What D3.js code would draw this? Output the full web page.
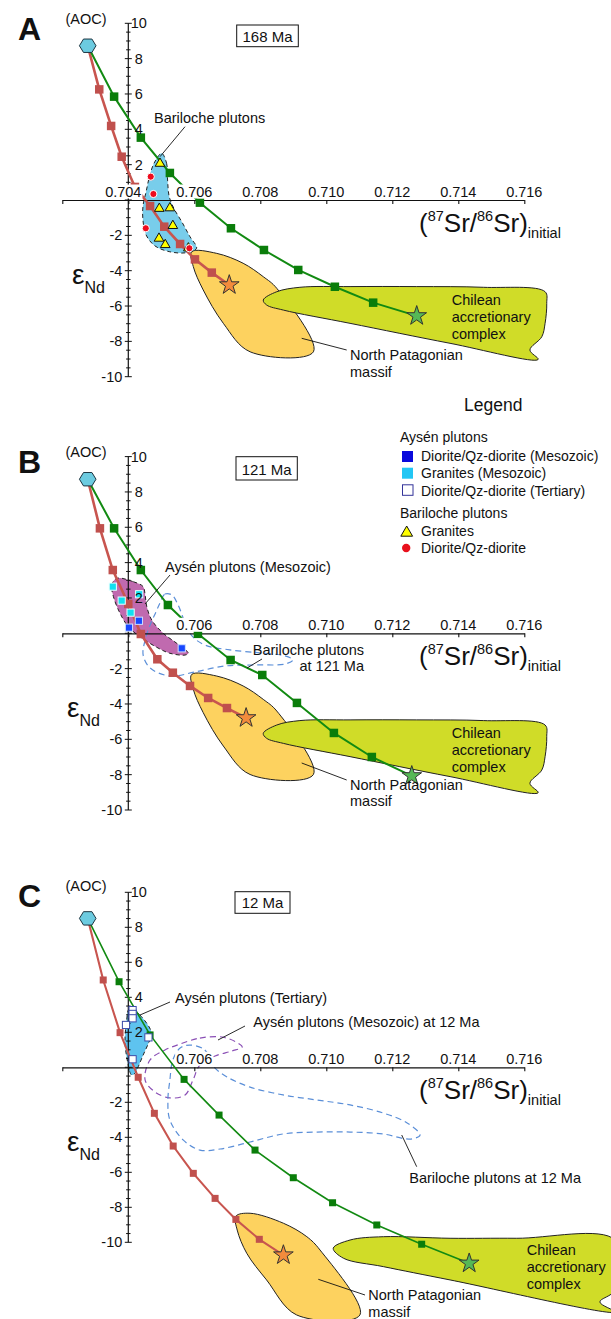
<!DOCTYPE html>
<html><head><meta charset="utf-8">
<script src="https://cdn.jsdelivr.net/npm/d3@7"></script>
<style>body{margin:0;background:#fff} text{font-family:"Liberation Sans",Arial,sans-serif;fill:#111}</style>
</head><body><svg id="c" width="611" height="1319"></svg>
<script>
// ---------- DATA ----------
const xTickValues = [0.704,0.706,0.708,0.710,0.712,0.714,0.716];
const xTickLabels = ["0.704","0.706","0.708","0.710","0.712","0.714","0.716"];
const yTickValues = [10,8,6,4,2,-2,-4,-6,-8,-10];
const yTickLabels = ["10","8","6","4","2","-2","-4","-6","-8","-10"];
const panelLetters = ["A","B","C"];
const panelAges = ["168 Ma","121 Ma","12 Ma"];

// Panel A (168 Ma)
const redA = [[0.70277,8.73],[0.70312,6.26],[0.70348,4.19],[0.70380,2.45],[0.70420,0.74],[0.70466,-0.34],[0.70509,-1.51],[0.70557,-2.49],[0.70602,-3.36],[0.70653,-4.11],[0.70706,-4.81]];
const greenA = [[0.70277,8.73],[0.70357,5.85],[0.70438,3.53],[0.70526,1.53],[0.70617,-0.15],[0.70711,-1.60],[0.70811,-2.83],[0.70915,-3.96],[0.71026,-4.91],[0.71142,-5.81],[0.71274,-6.56]];
const barilocheFieldA = [[0.70501,2.64],[0.70516,2.08],[0.70519,1.13],[0.70524,0.19],[0.70538,-0.47],[0.70562,-1.23],[0.70587,-2.08],[0.70607,-2.73],[0.70577,-2.98],[0.70526,-2.93],[0.70481,-2.60],[0.70454,-1.98],[0.70444,-1.04],[0.70445,-0.28],[0.70454,0.47],[0.70464,1.32],[0.70478,2.08]];
const barilocheGranitesA = [[0.70496,2.11],[0.70494,-0.44],[0.70526,-0.41],[0.70535,-1.41],[0.70493,-2.13],[0.70512,-2.49],[0.70582,-2.68]];
const barilocheDioritesA = [[0.70468,1.32],[0.70476,0.34],[0.70453,-1.60],[0.70585,-2.73]];
const patagoniaA = [[0.70592,-2.93],[0.70668,-3.02],[0.70748,-3.58],[0.70809,-4.34],[0.70850,-5.00],[0.70961,-8.59],[0.70769,-8.59],[0.70688,-6.98],[0.70627,-5.09],[0.70597,-3.77]];
const chileA = [[0.70809,-5.66],[0.70850,-5.19],[0.70920,-4.94],[0.71072,-4.90],[0.71274,-4.90],[0.71476,-4.94],[0.71663,-5.19],[0.71668,-5.85],[0.71663,-6.98],[0.71653,-7.74],[0.71617,-8.49],[0.71642,-9.02],[0.71375,-8.11],[0.71072,-6.98],[0.70870,-6.23],[0.70819,-5.94]];

// Panel B (121 Ma)
const redB = [[0.70277,8.72],[0.70314,5.94],[0.70353,3.58],[0.70400,1.66],[0.70438,-0.04],[0.70488,-1.47],[0.70535,-2.23],[0.70587,-2.98],[0.70642,-3.66],[0.70699,-4.23],[0.70757,-4.79]];
const greenB = [[0.70277,8.72],[0.70357,5.94],[0.70438,3.58],[0.70520,1.60],[0.70611,-0.03],[0.70710,-1.51],[0.70806,-2.36],[0.70911,-3.94],[0.71023,-5.64],[0.71138,-7.00],[0.71259,-8.07]];
const aysenFieldB = [[0.70365,3.11],[0.70415,2.92],[0.70445,2.64],[0.70451,2.17],[0.70456,1.51],[0.70471,0.75],[0.70506,0.00],[0.70547,-0.57],[0.70582,-1.13],[0.70572,-1.23],[0.70526,-1.13],[0.70486,-0.79],[0.70435,-0.19],[0.70400,0.37],[0.70375,1.13],[0.70355,2.07],[0.70350,2.73]];
const aysenGranitesB = [[0.70353,2.64],[0.70433,2.21],[0.70380,1.85],[0.70407,1.17]];
const aysenDioritesB = [[0.70432,0.71],[0.70402,0.32],[0.70562,-0.85]];
const barilocheAt121 = [[0.70496,1.72],[0.70511,2.22],[0.70532,2.17],[0.70551,1.60],[0.70569,0.75],[0.70593,-0.15],[0.70632,-0.66],[0.70708,-0.94],[0.70799,-1.11],[0.70875,-1.28],[0.70899,-1.51],[0.70875,-1.74],[0.70784,-1.79],[0.70693,-1.85],[0.70602,-2.19],[0.70526,-2.42],[0.70466,-1.96],[0.70445,-1.23],[0.70451,-0.38],[0.70466,0.47],[0.70484,1.21]];
const patagoniaB = [[0.70592,-2.33],[0.70668,-2.42],[0.70748,-2.98],[0.70809,-3.74],[0.70850,-4.40],[0.70961,-7.99],[0.70769,-7.99],[0.70688,-6.38],[0.70627,-4.49],[0.70597,-3.17]];
const chileB = [[0.70809,-5.66],[0.70850,-5.19],[0.70920,-4.94],[0.71072,-4.90],[0.71274,-4.90],[0.71476,-4.94],[0.71663,-5.19],[0.71668,-5.85],[0.71663,-6.98],[0.71653,-7.74],[0.71617,-8.49],[0.71642,-9.02],[0.71375,-8.11],[0.71072,-6.98],[0.70870,-6.23],[0.70819,-5.94]];

// Panel C (12 Ma)
const redC = [[0.70277,8.51],[0.70324,4.99],[0.70375,1.98],[0.70430,-0.57],[0.70479,-2.63],[0.70536,-4.50],[0.70597,-6.06],[0.70663,-7.49],[0.70726,-8.69],[0.70797,-9.83],[0.70870,-10.73]];
const greenC = [[0.70277,8.51],[0.70372,4.89],[0.70466,1.85],[0.70569,-0.69],[0.70675,-2.73],[0.70784,-4.73],[0.70900,-6.31],[0.71019,-7.74],[0.71153,-9.01],[0.71289,-10.11],[0.71433,-11.20]];
const aysenFieldC = [[0.70405,3.37],[0.70435,2.99],[0.70471,1.94],[0.70461,1.37],[0.70445,0.70],[0.70430,0.03],[0.70420,-0.34],[0.70410,-0.44],[0.70395,0.61],[0.70390,1.56],[0.70395,2.70],[0.70400,3.27]];
const aysenTertiaryC = [[0.70413,3.27],[0.70413,3.05],[0.70413,2.80],[0.70393,2.42],[0.70461,1.71],[0.70413,0.46]];
const aysenMesoAt12 = [[0.70557,1.33],[0.70617,1.67],[0.70684,1.73],[0.70732,1.39],[0.70745,1.16],[0.70714,0.93],[0.70663,0.65],[0.70617,0.13],[0.70596,-0.73],[0.70572,-1.58],[0.70526,-1.75],[0.70481,-1.41],[0.70451,-0.73],[0.70466,0.42],[0.70511,0.99]];
const barilocheAt12 = [[0.70587,1.27],[0.70632,0.99],[0.70657,0.07],[0.70699,-0.55],[0.70769,-1.13],[0.70869,-1.58],[0.70972,-1.87],[0.71072,-2.15],[0.71172,-2.61],[0.71245,-3.18],[0.71284,-3.87],[0.71254,-4.10],[0.71172,-3.81],[0.71072,-3.70],[0.70972,-3.70],[0.70869,-3.81],[0.70769,-4.27],[0.70678,-4.67],[0.70617,-4.73],[0.70566,-4.15],[0.70526,-3.01],[0.70520,-1.87],[0.70526,-0.73],[0.70535,0.42],[0.70557,1.10]];
const patagoniaC = [[0.70726,-8.51],[0.70769,-8.34],[0.70870,-8.91],[0.70941,-9.68],[0.70981,-10.44],[0.71102,-14.15],[0.70910,-14.15],[0.70819,-12.15],[0.70759,-10.63],[0.70730,-9.30]];
const chileC = [[0.71021,-10.34],[0.71072,-9.87],[0.71173,-9.68],[0.71375,-9.77],[0.71577,-9.77],[0.71875,-9.87],[0.71875,-12.73],[0.71829,-13.41],[0.71875,-13.98],[0.71375,-12.15],[0.71173,-11.39],[0.71052,-10.91]];

// ---------- DRAW ----------
const svg = d3.select('#c');
const FONT = 14.5;
const x = d3.scaleLinear().domain([0.702, 0.716]).range([62.3, 524.3]);

const C = {
  red:'#c8554f', redSq:'#c0504d', green:'#128a12', greenSq:'#0a7d0a',
  hex:'#6ccbe0', blueField:'#78cdeb', orange:'#fdd25f', chile:'#d0dc28',
  purple:'#c06aaf', blueC:'#5ec3ef', starO:'#f38b3c', starG:'#56b856'
};

const hexSymbol = { draw(ctx){ const w=8.3,h=6.7,q=4.2;
  ctx.moveTo(-w,0);ctx.lineTo(-q,-h);ctx.lineTo(q,-h);ctx.lineTo(w,0);ctx.lineTo(q,h);ctx.lineTo(-q,h);ctx.closePath(); } };

function txt(g, s, px, py, opts={}) {
  const t = g.append('text').attr('x',px).attr('y',py).attr('font-size',opts.size||FONT).text(s);
  if (opts.anchor) t.attr('text-anchor',opts.anchor);
  if (opts.weight) t.attr('font-weight',opts.weight);
  return t;
}
function leader(g, x1,y1,x2,y2){ g.append('line').attr('x1',x1).attr('y1',y1).attr('x2',x2).attr('y2',y2).attr('stroke','#111').attr('stroke-width',0.9); }

function drawPanel(p) {
  const g = svg.append('g');
  const y = d3.scaleLinear().domain([0,10]).range([p.y0, p.y0 - 10*p.k]);
  const shape = (pts, curve) => d3.line().x(d=>x(d[0])).y(d=>y(d[1])).curve(curve||d3.curveCatmullRomClosed.alpha(0.5))(pts);

  g.append('path').attr('d', shape(p.patagonia)).attr('fill',C.orange).attr('stroke','#222').attr('stroke-width',1);
  g.append('path').attr('d', shape(p.chile)).attr('fill',C.chile).attr('stroke','#222').attr('stroke-width',1);
  if (p.fill) g.append('path').attr('d', shape(p.fill.pts)).attr('fill',p.fill.color).attr('stroke','#222').attr('stroke-width',1).attr('stroke-dasharray','4,3');
  (p.dashed||[]).forEach(dd => g.append('path').attr('d', shape(dd.pts)).attr('fill','none').attr('stroke',dd.color).attr('stroke-width',1.2).attr('stroke-dasharray','6,4'));

  const ax = g.append('g').attr('transform',`translate(0,${p.y0})`)
    .call(d3.axisBottom(x).tickValues([0.702].concat(xTickValues)).tickSize(4).tickSizeOuter(0).tickFormat(''));
  ax.select('.domain').attr('stroke','#111').attr('stroke-width',1.2);
  ax.selectAll('.tick line').attr('stroke','#111').attr('stroke-width',1.1);
  const x0 = x(0.704);
  g.append('line').attr('x1',x0).attr('x2',x0).attr('y1',y(10)).attr('y2',y(-10)).attr('stroke','#111').attr('stroke-width',1.2);
  const minor = d3.range(-20,21).map(i=>i/2);
  g.selectAll('.yt').data(minor).join('line')
    .attr('x1', d => x0 - (d%2===0?3.5:2.2)).attr('x2', d => x0 + (d%2===0?3.5:2.2))
    .attr('y1', d=>y(d)).attr('y2', d=>y(d)).attr('stroke','#111').attr('stroke-width',1);

  [[p.red, C.red, C.redSq, 2.6],[p.green, C.green, C.greenSq, 2]].forEach(([pts,lc,sc,lw]) => {
    g.append('path').attr('d', d3.line().x(d=>x(d[0])).y(d=>y(d[1]))(pts)).attr('fill','none').attr('stroke',lc).attr('stroke-width',p.lw*lw);
    g.selectAll(null).data(pts.slice(1,-1)).join('rect')
      .attr('x',d=>x(d[0])-p.sq/2).attr('y',d=>y(d[1])-p.sq/2).attr('width',p.sq).attr('height',p.sq).attr('fill',sc);
  });
  g.append('path').attr('d', d3.symbol().type(hexSymbol)()).attr('transform',`translate(${x(p.red[0][0])},${y(p.red[0][1])})`)
    .attr('fill',C.hex).attr('stroke','#1d3440').attr('stroke-width',1);
  [[p.red,C.starO],[p.green,C.starG]].forEach(([pts,col])=>{
    const e = pts[pts.length-1];
    g.append('path').attr('d', d3.symbol().type(d3.symbolStar).size(p.star)()).attr('transform',`translate(${x(e[0])},${y(e[1])})`)
      .attr('fill',col).attr('stroke','#333').attr('stroke-width',1);
  });

  if (p.granites) g.selectAll(null).data(p.granites).join('path')
    .attr('d', d3.symbol().type(d3.symbolTriangle).size(40)()).attr('transform',d=>`translate(${x(d[0])},${y(d[1])+0.8})`)
    .attr('fill','#ffff00').attr('stroke','#111').attr('stroke-width',1);
  if (p.diorites) g.selectAll(null).data(p.diorites).join('circle')
    .attr('cx',d=>x(d[0])).attr('cy',d=>y(d[1])).attr('r',3.6).attr('fill','#ee0b1e').attr('stroke','#fff').attr('stroke-width',1);
  (p.squares||[]).forEach(sq => g.selectAll(null).data(sq.pts).join('rect')
    .attr('x',d=>x(d[0])-3.6).attr('y',d=>y(d[1])-3.6).attr('width',7.2).attr('height',7.2)
    .attr('fill',sq.fill).attr('stroke',sq.stroke).attr('stroke-width',1));

  xTickValues.forEach((v,i)=>{
    if (i===0 && !p.show704) return;
    const cx = x(v) - (i===0?5:0);
    const t = txt(g, xTickLabels[i], cx, p.y0-3.5, {anchor:'middle'});
    const bb = t.node().getBBox();
    g.insert('rect', () => t.node()).attr('x',bb.x-1).attr('y',bb.y+1).attr('width',bb.width+2).attr('height',bb.height-2).attr('fill','#fff');
  });
  yTickValues.forEach((v,i)=>{
    if (v>0) txt(g, yTickLabels[i], x0+10.5, y(v)+5, {anchor:'middle'});
    else txt(g, yTickLabels[i], x0-6, y(v)+5, {anchor:'end'});
  });

  const tt = g.append('text').attr('x',419).attr('y',p.y0+31.7).attr('font-size',26);
  tt.append('tspan').text('(');
  tt.append('tspan').attr('font-size',14.5).attr('dy',-11).text('87');
  tt.append('tspan').attr('dy',11).text('Sr/');
  tt.append('tspan').attr('font-size',14.5).attr('dy',-11).text('86');
  tt.append('tspan').attr('dy',11).text('Sr)');
  tt.append('tspan').attr('font-size',14.5).attr('dy',6).text('initial');
  const et = g.append('text').attr('x',p.epsX).attr('y',p.y0+83.5).attr('font-size',28);
  et.append('tspan').text('ε');
  et.append('tspan').attr('font-size',16).attr('dy',9).text('Nd');

  txt(g, p.letter, 18, p.y0-160, {size:32, weight:'bold'});
  txt(g, '(AOC)', 86, p.y0-176.5, {anchor:'middle'});
  g.append('rect').attr('x',p.box[0]).attr('y',p.box[1]).attr('width',p.box[2]).attr('height',p.box[3]).attr('fill','#fff').attr('stroke','#111').attr('stroke-width',1);
  txt(g, p.age, p.box[0]+p.box[2]/2, p.box[1]+p.box[3]-5, {anchor:'middle', size:15});
  p.notes(g);
}

drawPanel({letter:panelLetters[0], age:panelAges[0], y0:200, k:17.67, lw:1, sq:8.5, star:120, epsX:72, show704:true,
  red:redA, green:greenA, patagonia:patagoniaA, chile:chileA,
  fill:{pts:barilocheFieldA, color:C.blueField}, granites:barilocheGranitesA, diorites:barilocheDioritesA,
  box:[236.7,25,61.6,21.7],
  notes:g=>{
    txt(g,'Bariloche plutons',154,123); leader(g,185,126.7,160,156.7);
    txt(g,'Chilean',451.7,305); txt(g,'accretionary',451.7,322); txt(g,'complex',451.7,339);
    txt(g,'North Patagonian',350,360); txt(g,'massif',350,377); leader(g,301.7,338.3,346.7,350);
  }});

drawPanel({letter:panelLetters[1], age:panelAges[1], y0:633.3, k:17.67, lw:1, sq:8.5, star:120, epsX:67,
  red:redB, green:greenB, patagonia:patagoniaB, chile:chileB,
  fill:{pts:aysenFieldB, color:C.purple},
  dashed:[{pts:barilocheAt121, color:'#5b8fd8'}],
  squares:[{pts:aysenGranitesB, fill:'#10e0f0', stroke:'#e8ffff'},{pts:aysenDioritesB, fill:'#1747ff', stroke:'#cfe0ff'}],
  box:[236,456.7,61.3,23.3],
  notes:g=>{
    txt(g,'Aysén plutons (Mesozoic)',165,571.7); leader(g,170,575,145,604);
    txt(g,'Bariloche plutons',364,655,{anchor:'end'}); txt(g,'at 121 Ma',364,671,{anchor:'end'}); leader(g,262,659,247,668);
    txt(g,'Chilean',451.7,738); txt(g,'accretionary',451.7,755); txt(g,'complex',451.7,772);
    txt(g,'North Patagonian',350,790); txt(g,'massif',350,806); leader(g,301.7,763,346.7,780);
  }});

drawPanel({letter:panelLetters[2], age:panelAges[2], y0:1067.3, k:17.5, lw:0.8, sq:7, star:120, epsX:67,
  red:redC, green:greenC, patagonia:patagoniaC, chile:chileC,
  fill:{pts:aysenFieldC, color:C.blueC},
  dashed:[{pts:aysenMesoAt12, color:'#8a4fb5'},{pts:barilocheAt12, color:'#5b8fd8'}],
  squares:[{pts:aysenTertiaryC, fill:'#fff', stroke:'#3a4aa8'}],
  box:[235,891.7,55,21.6],
  notes:g=>{
    txt(g,'Aysén plutons (Tertiary)',175,1003); leader(g,170,1002,140,1015);
    txt(g,'Aysén plutons (Mesozoic) at 12 Ma',253.3,1027); leader(g,245,1026,218,1040);
    txt(g,'Bariloche plutons at 12 Ma',409.3,1183); leader(g,416.7,1166.7,401.7,1135);
    txt(g,'North Patagonian',368.3,1300); txt(g,'massif',368.3,1316.7); leader(g,318.3,1279.3,365,1295);
    txt(g,'Chilean',526.7,1255); txt(g,'accretionary',526.7,1272); txt(g,'complex',526.7,1289);
  }});

const L = svg.append('g');
txt(L,'Legend',493.3,410.7,{anchor:'middle', size:17.5});
txt(L,'Aysén plutons',400,441.7,{size:14});
L.append('rect').attr('x',402).attr('y',451).attr('width',11).attr('height',11).attr('fill','#0a0adc');
txt(L,'Diorite/Qz-diorite (Mesozoic)',421,461,{size:14});
L.append('rect').attr('x',402).attr('y',467.7).attr('width',11).attr('height',11).attr('fill','#22c6f4');
txt(L,'Granites (Mesozoic)',421,477.7,{size:14});
L.append('rect').attr('x',402.5).attr('y',484.8).attr('width',10.5).attr('height',10.5).attr('fill','#fff').attr('stroke','#333399').attr('stroke-width',1);
txt(L,'Diorite/Qz-diorite (Tertiary)',421,495.5,{size:14});
txt(L,'Bariloche plutons',400,517.7,{size:14});
L.append('path').attr('d',d3.symbol().type(d3.symbolTriangle).size(60)()).attr('transform','translate(406.7,532.8)').attr('fill','#ffff00').attr('stroke','#111').attr('stroke-width',1);
txt(L,'Granites',421,535.7,{size:14});
L.append('circle').attr('cx',406.2).attr('cy',548).attr('r',4.2).attr('fill','#e8101c');
txt(L,'Diorite/Qz-diorite',421,553.3,{size:14});
</script></body></html>
